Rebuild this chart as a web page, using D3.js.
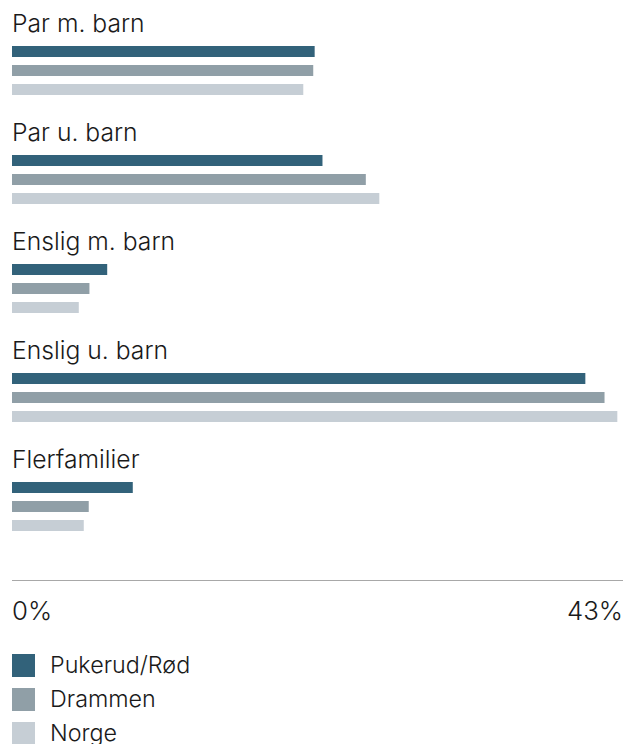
<!DOCTYPE html>
<html>
<head>
<meta charset="utf-8">
<script src="https://cdn.jsdelivr.net/npm/d3@7"></script>
<style>
    body { margin: 0; background: #fff; }
    svg text { font-family: Inter, "Noto Sans", sans-serif; font-weight: 300; fill: #1a1a1a; }
</style>
</head>
<body>
<svg id="drawing_region"></svg>
<script>
const categories = ['Par m. barn', 'Par u. barn', 'Enslig m. barn', 'Enslig u. barn', 'Flerfamilier'];
const series = ['Pukerud/Rød', 'Drammen', 'Norge'];
const pukerud = [21.3, 21.85, 6.7, 40.35, 8.5];
const drammen = [21.2, 24.9, 5.45, 41.7, 5.4];
const norge = [20.5, 25.85, 4.7, 42.6, 5.05];
const tickLabels = ['0%', '43%'];
const xmax = 43;
const colors = ['#32627a', '#909fa7', '#c6ced5'];

class GroupedBars {
    constructor(config) {
        this.config = config;
        this.init();
    }
    init() {
        let self = this;
        self.svg = d3.select(self.config.parent)
            .attr('width', self.config.width)
            .attr('height', self.config.height);

        self.xscale = d3.scaleLinear()
            .domain([0, xmax])
            .range([12, 623]);

        // group offsets, then one row per series inside a group
        self.gscale = d3.scaleBand()
            .domain(categories)
            .range([0, 545]);
        self.sscale = d3.scaleBand()
            .domain(series)
            .range([46, 95])
            .paddingInner(8 / 19)
            .paddingOuter(0);
        self.color = d3.scaleOrdinal().domain(series).range(colors);
    }
    render() {
        let self = this;
        const values = [pukerud, drammen, norge];
        const rows = categories.map((c, i) => ({
            cat: c,
            bars: series.map((s, j) => ({ s: s, v: values[j][i] }))
        }));

        const groups = self.svg.selectAll('g.group')
            .data(rows)
            .enter()
            .append('g')
            .attr('class', 'group')
            .attr('transform', d => `translate(0, ${self.gscale(d.cat)})`);

        groups.append('text')
            .attr('x', 12)
            .attr('y', 31.5)
            .attr('font-size', '24.7px')
            .text(d => d.cat);

        groups.selectAll('rect')
            .data(d => d.bars)
            .enter()
            .append('rect')
            .attr('x', self.xscale(0))
            .attr('y', d => self.sscale(d.s))
            .attr('width', d => self.xscale(d.v) - self.xscale(0))
            .attr('height', self.sscale.bandwidth())
            .attr('fill', d => self.color(d.s));

        self.svg.append('line')
            .attr('x1', self.xscale(0))
            .attr('x2', self.xscale(xmax))
            .attr('y1', 580.5)
            .attr('y2', 580.5)
            .attr('stroke', '#a8a8a8')
            .attr('stroke-width', 1);

        self.svg.selectAll('text.tick')
            .data([0, xmax])
            .enter()
            .append('text')
            .attr('class', 'tick')
            .attr('x', d => self.xscale(d))
            .attr('y', 619.5)
            .attr('font-size', '25.8px')
            .attr('text-anchor', (d, i) => i === 0 ? 'start' : 'end')
            .text((d, i) => tickLabels[i]);

        const legend = self.svg.selectAll('g.legend')
            .data(series)
            .enter()
            .append('g')
            .attr('class', 'legend')
            .attr('transform', (d, i) => `translate(12, ${654 + i * 34})`);

        legend.append('rect')
            .attr('width', 23)
            .attr('height', 23)
            .attr('fill', d => self.color(d));

        legend.append('text')
            .attr('x', 38)
            .attr('y', 19)
            .attr('font-size', '23.3px')
            .text(d => d);
    }
}

const chart = new GroupedBars({
    parent: '#drawing_region',
    width: 637,
    height: 744
});
chart.render();
</script>
</body>
</html>
